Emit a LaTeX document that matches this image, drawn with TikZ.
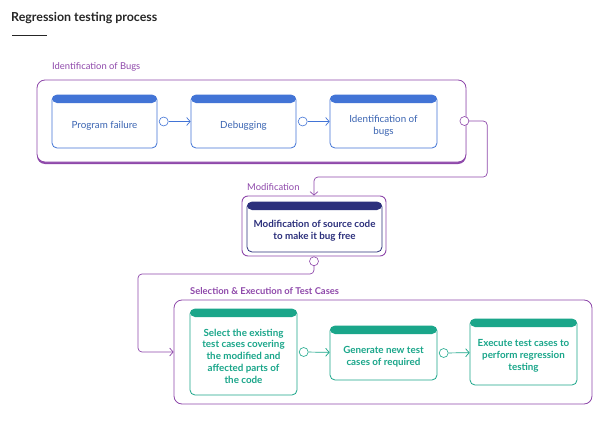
\documentclass[tikz,border=0pt]{standalone}
\usepackage{fontspec}
\setmainfont{Lato}
\usepackage{tikz}
\usetikzlibrary{arrows,arrows.meta}
\usetikzlibrary{calc}
\usetikzlibrary{positioning}

\definecolor{purp}{RGB}{142,72,170}
\definecolor{bugblue}{RGB}{66,116,214}
\definecolor{bugtext}{RGB}{58,100,178}
\definecolor{modnavy}{RGB}{44,48,124}
\definecolor{testgreen}{RGB}{26,166,138}

\begin{document}
\begin{tikzpicture}[x=1pt,y=-1pt,
    group/.style={draw=purp, line width=0.8pt, rounded corners=8pt, fill=white},
    grouplabel/.style={anchor=west, text=purp, font=\fontsize{9.4}{11}\selectfont, inner sep=0pt},
    stepbox/.style={draw=#1, line width=0.8pt, rounded corners=5pt, fill=white,
        minimum width=107pt, inner sep=0pt,
        path picture={\fill[#1] (path picture bounding box.north west) rectangle
            ([yshift=-8pt]path picture bounding box.north east);}},
    steptext/.style={align=center, text=#1, inner sep=0pt, font=\fontsize{9.8}{11.8}\selectfont},
    dot/.style={draw=#1, fill=white, circle, line width=0.6pt, minimum size=9pt, inner sep=0pt},
    link/.style={draw=#1, line width=0.7pt, -{Straight Barb[length=3.5pt,width=8pt]}}]
     \useasboundingbox (0,0) rectangle (600,423);
     % title
     \node[anchor=west, inner sep=0pt, text=black!85, font=\fontsize{12.4}{14}\selectfont\bfseries] (title) at (11,18) {Regression testing process};
     \draw[black!85, line width=0.8pt] (12,35) -- (47,35);

     % identification of bugs
     \node[grouplabel] (lab1) at (52,67) {Identification of Bugs};
     \fill[purp, rounded corners=8pt] (37,82) rectangle (466,164);
     \node[group, minimum width=429pt, minimum height=82pt] (grp1) at (251.5,121) {};
     \node[stepbox=bugblue, minimum width=105pt, minimum height=53pt] (pf) at (104.5,121.5) {};
     \node[stepbox=bugblue, minimum width=105pt, minimum height=53pt] (dbg) at (243.5,121.5) {};
     \node[stepbox=bugblue, minimum width=107pt, minimum height=53pt] (idb) at (383.5,121.5) {};
     \node[steptext=bugtext] (pft) at ([yshift=-4pt]pf.center) {Program failure};
     \node[steptext=bugtext] (dbgt) at ([yshift=-4pt]dbg.center) {Debugging};
     \node[steptext=bugtext] (idbt) at ([yshift=-4pt]idb.center) {Identification of\\bugs};
     \node[dot=bugblue, right=1.5pt of pf] (o1) {};
     \node[dot=bugblue, right=1.5pt of dbg] (o2) {};
     \draw[link=bugblue] (o1) -- (dbg);
     \draw[link=bugblue] (o2) -- (idb);

     % modification
     \node[grouplabel] (lab2) at (247,187) {Modification};
     \node[draw=purp, line width=0.9pt, rounded corners=6pt, minimum width=144pt, minimum height=60pt] (modout) at (314,226) {};
     \node[stepbox=modnavy, minimum width=135pt, minimum height=50pt] (mod) at (314.5,227) {};
     \node[steptext=modnavy, font=\fontsize{9.8}{11.8}\selectfont\bfseries] (modt) at ([yshift=-4pt]mod.center) {Modification of source code\\to make it bug free};
     \node[dot=purp] (o3) at ([xshift=-2pt]grp1.east) {};
     \draw[link=purp, rounded corners=4pt] (o3.east) -- ++(18,0) -- ++(0,56) -| (modout.north);

     % selection and execution
     \node[grouplabel, font=\fontsize{9.4}{11}\selectfont\bfseries] (lab3) at (190,291) {Selection \& Execution of Test Cases};
     \node[group, minimum width=418pt, minimum height=104pt] (grp3) at (383,352) {};
     \node[dot=purp, below=0pt of modout] (o4) {};
     \draw[link=purp, rounded corners=4pt] (o4.south) |- (138,274) |- (grp3.west);
     \node[stepbox=testgreen, minimum height=86pt] (sel) at (243.5,352) {};
     \node[stepbox=testgreen, minimum height=54pt] (gen) at (383.5,353) {};
     \node[stepbox=testgreen, minimum height=66pt] (exe) at (523.5,352) {};
     \node[steptext=testgreen, font=\fontsize{9.8}{11.8}\selectfont\bfseries] (selt) at ([yshift=-4pt]sel.center) {Select the existing\\test cases covering\\the modified and\\affected parts of\\the code};
     \node[steptext=testgreen, font=\fontsize{9.8}{11.8}\selectfont\bfseries] (gent) at ([yshift=-4pt]gen.center) {Generate new test\\cases of required};
     \node[steptext=testgreen, font=\fontsize{9.8}{11.8}\selectfont\bfseries] (exet) at ([yshift=-4pt]exe.center) {Execute test cases to\\perform regression\\testing};
     \node[dot=testgreen, right=1.5pt of sel] (o5) {};
     \node[dot=testgreen, right=1.5pt of gen] (o6) {};
     \draw[link=testgreen] (o5) -- (gen);
     \draw[link=testgreen] (o6) -- (exe);
\end{tikzpicture}
\end{document}
